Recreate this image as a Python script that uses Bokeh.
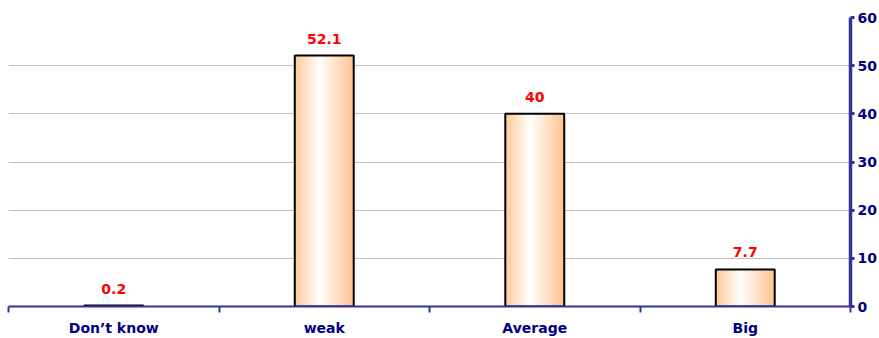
from bokeh.plotting import figure
from bokeh.models import FixedTicker, Range1d, ColumnDataSource
from bokeh.core.properties import value
from bokeh.embed import file_html
from bokeh.resources import INLINE

categories = ["Don\u2019t know", "weak", "Average", "Big"]
shares = [0.2, 52.1, 40, 7.7]
y_ticks = [0, 10, 20, 30, 40, 50, 60]

NAVY = "#000080"
AXIS = "#333399"
FONT = "DejaVu Sans"

p = figure(width=879, height=338, output_backend="svg", toolbar_location=None,
           x_range=Range1d(0, len(categories)), y_range=Range1d(0, 60),
           y_axis_location="right",
           min_border_left=8, min_border_top=17, min_border_right=0, min_border_bottom=0)
p.outline_line_color = None
p.background_fill_color = "white"
p.border_fill_color = "white"

# horizontal gridlines at the inner tick values only
p.xgrid.visible = False
p.ygrid.ticker = FixedTicker(ticks=[10, 20, 30, 40, 50])
p.ygrid.grid_line_color = "#C0C0C0"
p.ygrid.grid_line_width = 1

# category axis: labels at centres, separator ticks at the boundaries
centres = [i + 0.5 for i in range(len(categories))]
xa = p.xaxis[0]
xa.ticker = FixedTicker(ticks=centres, minor_ticks=list(range(len(categories) + 1)))
xa.major_label_overrides = {c: lab for c, lab in zip(centres, categories)}
xa.major_tick_line_color = None
xa.major_tick_out = 0
xa.major_tick_in = 0
xa.minor_tick_line_color = AXIS
xa.minor_tick_line_width = 2
xa.minor_tick_out = 6
xa.minor_tick_in = 0
xa.axis_line_color = AXIS
xa.axis_line_width = 2
xa.major_label_standoff = 7
xa.major_label_text_font = FONT
xa.major_label_text_font_style = "bold"
xa.major_label_text_font_size = "14px"
xa.major_label_text_color = NAVY

ya = p.yaxis[0]
ya.ticker = FixedTicker(ticks=y_ticks)
ya.minor_tick_line_color = None
ya.major_tick_line_color = AXIS
ya.major_tick_line_width = 3
ya.major_tick_out = 4
ya.major_tick_in = 0
ya.axis_line_color = AXIS
ya.axis_line_width = 3.5
ya.major_label_standoff = 3
ya.major_label_text_font = FONT
ya.major_label_text_font_style = "bold"
ya.major_label_text_font_size = "14px"
ya.major_label_text_color = NAVY

# bars: a peach-white-peach horizontal shading built from overlapping strips
bar_w = 0.28
n_strips = 30
peach_l = (253, 200, 152)
peach_r = (254, 194, 142)
white_at = 0.42


def shade(t):
    if t <= white_at:
        f = t / white_at
        c0, c1 = peach_l, (255, 255, 255)
    else:
        f = (t - white_at) / (1 - white_at)
        c0, c1 = (255, 255, 255), peach_r
    r, g, b = (int(round(a + (bb - a) * f)) for a, bb in zip(c0, c1))
    return "#%02x%02x%02x" % (r, g, b)


step = bar_w / n_strips
left, right, top, bottom, colors = [], [], [], [], []
for c, v in zip(centres, shares):
    x0 = c - bar_w / 2
    for k in range(n_strips):
        t = (k + 0.5) / n_strips
        left.append(x0 + k * step)
        # each strip runs under its right neighbour to avoid hairline seams
        right.append(x0 + min(k + 2, n_strips) * step)
        bottom.append(0)
        top.append(v)
        colors.append(shade(t))
p.quad(left=left, right=right, top=top, bottom=bottom, fill_color=colors, line_color=None)

bars = ColumnDataSource(dict(x=centres, top=shares,
                             label=[f"{v:g}" for v in shares]))
p.vbar(x="x", top="top", width=bar_w, bottom=0, source=bars,
       fill_color=None, line_color="black", line_width=2)

p.text(x="x", y="top", text="label", source=bars, text_align="center",
       text_baseline="bottom", y_offset=-12, text_color="#FF0000",
       text_font=value(FONT), text_font_style="bold", text_font_size="14px")

open("out.html", "w").write(file_html(p, INLINE))
